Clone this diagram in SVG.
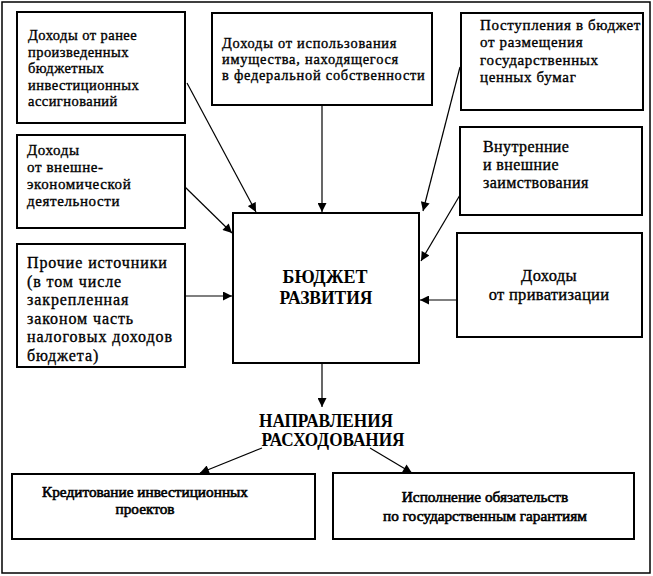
<svg xmlns="http://www.w3.org/2000/svg" width="653" height="576" viewBox="0 0 653 576" font-family="Liberation Serif, serif">
<defs>
<style>
.frame{fill:none;stroke:#000;stroke-width:1.5}
.box{fill:#fff;stroke:#000;stroke-width:2}
.t{font-size:15px;fill:#000;stroke:#000;stroke-width:0.35}
.tb{stroke-width:0.6}
.c{text-anchor:middle}
.s1{font-size:14.5px;letter-spacing:0.45px}
.s2{font-size:14.4px;letter-spacing:0.75px}
.s3{font-size:15px;letter-spacing:0.65px}
.s4{font-size:15px;letter-spacing:0.6px}
.s5{font-size:16px;letter-spacing:0.9px}
.s6{font-size:16px;letter-spacing:0.4px}
.s7{font-size:16.5px;letter-spacing:0.3px}
.s8{font-size:15.3px}
.big{font-size:19px;font-weight:bold;fill:#000;text-anchor:middle}
.ln{stroke:#000;stroke-width:1.2;fill:none;marker-end:url(#ah)}
</style>
<marker id="ah" viewBox="0 0 10 10" refX="10" refY="5" markerWidth="10" markerHeight="9" markerUnits="userSpaceOnUse" orient="auto">
<path d="M0,0 L10,5 L0,10 z" fill="#000"/>
</marker>
</defs>
<rect class="frame" x="2" y="2" width="648" height="571"/>
<g id="connectors">
<line class="ln" x1="187" y1="83" x2="256" y2="212"/>
<line class="ln" x1="322" y1="105" x2="322" y2="212"/>
<line class="ln" x1="460" y1="67" x2="423" y2="211"/>
<line class="ln" x1="460" y1="195" x2="421" y2="261"/>
<line class="ln" x1="457" y1="300" x2="420" y2="300"/>
<line class="ln" x1="185" y1="187" x2="232" y2="233"/>
<line class="ln" x1="185" y1="296" x2="232" y2="296"/>
<line class="ln" x1="322" y1="363" x2="322" y2="407"/>
<line class="ln" x1="262" y1="448" x2="200" y2="473"/>
<line class="ln" x1="370" y1="448" x2="412" y2="473"/>
</g>
<g id="n1">
<rect class="box" x="17" y="12" width="168" height="111"/>
<text class="t s1" x="28" y="40">Доходы от ранее</text>
<text class="t s1" x="28" y="56.5">произведенных</text>
<text class="t s1" x="28" y="73">бюджетных</text>
<text class="t s1" x="28" y="89.5">инвестиционных</text>
<text class="t s1" x="28" y="106">ассигнований</text>
</g>
<g id="n2">
<rect class="box" x="212" y="13" width="220" height="92"/>
<text class="t s2" x="222" y="48">Доходы от использования</text>
<text class="t s2" x="222" y="64">имущества, находящегося</text>
<text class="t s2" x="222" y="80">в федеральной собственности</text>
</g>
<g id="n3">
<rect class="box" x="461" y="13" width="182" height="97"/>
<text class="t s3" x="480" y="29.5">Поступления в бюджет</text>
<text class="t s3" x="480" y="47">от размещения</text>
<text class="t s3" x="480" y="64.5">государственных</text>
<text class="t s3" x="480" y="82">ценных бумаг</text>
</g>
<g id="n4">
<rect class="box" x="17" y="135" width="168" height="93"/>
<text class="t s4" x="27" y="155">Доходы</text>
<text class="t s4" x="27" y="172">от внешне-</text>
<text class="t s4" x="27" y="189">экономической</text>
<text class="t s4" x="27" y="206">деятельности</text>
</g>
<g id="n5">
<rect class="box" x="17" y="244" width="168" height="123"/>
<text class="t s5" x="27" y="268">Прочие источники</text>
<text class="t s5" x="27" y="286.5">(в том числе</text>
<text class="t s5" x="27" y="305">закрепленная</text>
<text class="t s5" x="27" y="323.5">законом часть</text>
<text class="t s5" x="27" y="342">налоговых доходов</text>
<text class="t s5" x="27" y="360.5">бюджета)</text>
</g>
<g id="n6">
<rect class="box" x="460" y="127" width="182" height="88"/>
<text class="t s6" x="483" y="152">Внутренние</text>
<text class="t s6" x="483" y="170">и внешние</text>
<text class="t s6" x="483" y="188">заимствования</text>
</g>
<g id="n7">
<rect class="box" x="457" y="233" width="185" height="104"/>
<text class="t c s7" x="549" y="281">Доходы</text>
<text class="t c s7" x="549" y="300">от приватизации</text>
</g>
<g id="center">
<rect class="box" x="233" y="213" width="186" height="150"/>
<text class="big" x="325" y="283" textLength="85" lengthAdjust="spacingAndGlyphs">БЮДЖЕТ</text>
<text class="big" x="326" y="304" textLength="93" lengthAdjust="spacingAndGlyphs">РАЗВИТИЯ</text>
</g>
<g id="directions">
<text class="big" x="326" y="427" textLength="134" lengthAdjust="spacingAndGlyphs">НАПРАВЛЕНИЯ</text>
<text class="big" x="333" y="446" textLength="143" lengthAdjust="spacingAndGlyphs">РАСХОДОВАНИЯ</text>
</g>
<g id="n8">
<rect class="box" x="12" y="474" width="303" height="65"/>
<text class="t tb c s8" x="145" y="497">Кредитование инвестиционных</text>
<text class="t tb c s8" x="145" y="514">проектов</text>
</g>
<g id="n9">
<rect class="box" x="333" y="473" width="301" height="66"/>
<text class="t tb c s8" x="485" y="502">Исполнение обязательств</text>
<text class="t tb c s8" x="485" y="521">по государственным гарантиям</text>
</g>
</svg>
